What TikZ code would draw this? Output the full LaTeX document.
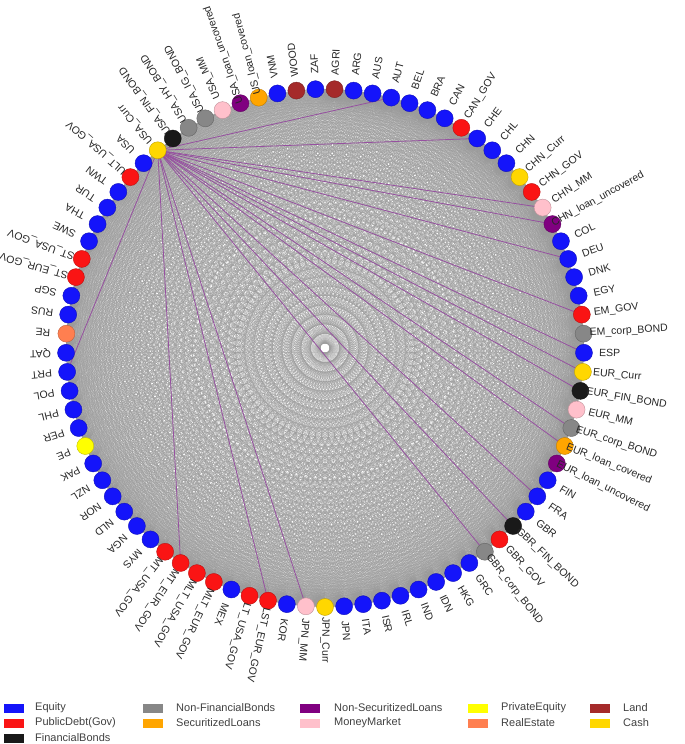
\documentclass[tikz,border=0pt]{standalone}
\usepackage{fontspec}
\setmainfont{Liberation Sans}
\usetikzlibrary{backgrounds}
\definecolor{cEq}{RGB}{20,20,250}
\definecolor{cGov}{RGB}{250,20,20}
\definecolor{cFin}{RGB}{25,25,25}
\definecolor{cNF}{RGB}{135,135,135}
\definecolor{cSec}{RGB}{255,165,0}
\definecolor{cNS}{RGB}{128,0,128}
\definecolor{cMM}{RGB}{255,192,203}
\definecolor{cPE}{RGB}{255,255,0}
\definecolor{cRE}{RGB}{255,127,80}
\definecolor{cLand}{RGB}{165,42,42}
\definecolor{cCash}{RGB}{255,215,0}
\definecolor{gedgecol}{RGB}{155,155,155}
\definecolor{pedgecol}{RGB}{150,80,160}
\newcommand\labfont{\fontsize{10.5}{12}\selectfont}
\tikzset{
 asset/.style={circle, minimum size=17pt, inner sep=0pt, fill=#1, draw=#1!75!black, line width=0.4pt},
 lab/.style={font=\labfont, text=black!85, inner sep=0pt, anchor=west},
 gedge/.style={draw=gedgecol, line width=0.1pt},
 pedge/.style={draw=pedgecol, line width=0.8pt},
 legbox/.style={minimum width=20pt, minimum height=9pt, inner sep=0pt, fill=#1, draw=none},
 legtext/.style={font=\fontsize{11}{12}\selectfont, text=black!75, anchor=west, inner sep=0pt}
}
\begin{document}
\begin{tikzpicture}[x=1pt,y=-1pt]
\useasboundingbox (0,0) rectangle (685,744);
\foreach \i/\t/\c/\n in {
0/AGRI/cLand/4, 1/ARG/cEq/3, 2/AUS/cEq/3, 3/AUT/cEq/3, 4/BEL/cEq/3, 5/BRA/cEq/3, 6/CAN/cEq/3, 7/CAN\_GOV/cGov/7,
8/CHE/cEq/3, 9/CHL/cEq/3, 10/CHN/cEq/3, 11/CHN\_Curr/cCash/8, 12/CHN\_GOV/cGov/7, 13/CHN\_MM/cMM/6,
14/CHN\_loan\_uncovered/cNS/18, 15/COL/cEq/3, 16/DEU/cEq/3, 17/DNK/cEq/3, 18/EGY/cEq/3, 19/EM\_GOV/cGov/6,
20/EM\_corp\_BOND/cNF/12, 21/ESP/cEq/3, 22/EUR\_Curr/cCash/8, 23/EUR\_FIN\_BOND/cFin/12, 24/EUR\_MM/cMM/6,
25/EUR\_corp\_BOND/cNF/13, 26/EUR\_loan\_covered/cSec/16, 27/EUR\_loan\_uncovered/cNS/18, 28/FIN/cEq/3,
29/FRA/cEq/3, 30/GBR/cEq/3, 31/GBR\_FIN\_BOND/cFin/12, 32/GBR\_GOV/cGov/7, 33/GBR\_corp\_BOND/cNF/13,
34/GRC/cEq/3, 35/HKG/cEq/3, 36/IDN/cEq/3, 37/IND/cEq/3, 38/IRL/cEq/3, 39/ISR/cEq/3, 40/ITA/cEq/3, 41/JPN/cEq/3,
42/JPN\_Curr/cCash/8, 43/JPN\_MM/cMM/6, 44/KOR/cEq/3, 45/LST\_EUR\_GOV/cGov/11, 46/LT\_USA\_GOV/cGov/10,
47/MEX/cEq/3, 48/MLT\_EUR\_GOV/cGov/11, 49/MLT\_USA\_GOV/cGov/11, 50/MT\_EUR\_GOV/cGov/10, 51/MT\_USA\_GOV/cGov/10,
52/MYS/cEq/3, 53/NGA/cEq/3, 54/NLD/cEq/3, 55/NOR/cEq/3, 56/NZL/cEq/3, 57/PAK/cEq/3, 58/PE/cPE/2, 59/PER/cEq/3,
60/PHL/cEq/3, 61/POL/cEq/3, 62/PRT/cEq/3, 63/QAT/cEq/3, 64/RE/cRE/2, 65/RUS/cEq/3, 66/SGP/cEq/3,
67/ST\_EUR\_GOV/cGov/10, 68/ST\_USA\_GOV/cGov/10, 69/SWE/cEq/3, 70/THA/cEq/3, 71/TUR/cEq/3, 72/TWN/cEq/3,
73/ULT\_USA\_GOV/cGov/11, 74/USA/cEq/3, 75/USA\_Curr/cCash/8, 76/USA\_FIN\_BOND/cFin/12, 77/USA\_HY\_BOND/cNF/11,
78/USA\_IG\_BOND/cNF/11, 79/USA\_MM/cMM/6, 80/USA\_loan\_uncovered/cNS/18, 81/US\_loan\_covered/cSec/15,
82/VNM/cEq/3, 83/WOOD/cLand/4, 84/ZAF/cEq/3} {
  \pgfmathsetmacro\a{90-(\i+0.5)*4.2352941}
  \pgfmathsetmacro\labr{277-1.0*\n}
  \node[asset=\c] (n\i) at ({325+259*cos(\a)},{348-259*sin(\a)}) {};
  \node[lab, rotate=\a] (t\i) at ({325+\labr*cos(\a)},{348-\labr*sin(\a)}) {\t};
}
\begin{pgfonlayer}{background}
\foreach \i in {0,...,83} {
  \pgfmathtruncatemacro\s{\i+1}
  \draw[gedge] foreach \j in {\s,...,84} {(n\i.center) -- (n\j.center)};
}
\foreach \j in {3,8,13,14,16,19,21,22,23,25,26,29,31,33,43,45,50,62}
  \draw[pedge] (n75.center) -- (n\j.center);
\end{pgfonlayer}
% legend
\node[legbox=cEq] (k1) at (14,708) {};   \node[legtext] (l1) at (35,708) {Equity};
\node[legbox=cGov] (k2) at (14,723) {};  \node[legtext] (l2) at (35,723) {PublicDebt(Gov)};
\node[legbox=cFin] (k3) at (14,738) {};  \node[legtext] (l3) at (35,738) {FinancialBonds};
\node[legbox=cNF] (k4) at (153,708) {};  \node[legtext] (l4) at (176,708) {Non-FinancialBonds};
\node[legbox=cSec] (k5) at (153,723) {}; \node[legtext] (l5) at (176,723) {SecuritizedLoans};
\node[legbox=cNS] (k6) at (310,708) {};  \node[legtext] (l6) at (334,708) {Non-SecuritizedLoans};
\node[legbox=cMM] (k7) at (310,723) {};  \node[legtext] (l7) at (334,723) {MoneyMarket};
\node[legbox=cPE] (k8) at (478,708) {};  \node[legtext] (l8) at (501,708) {PrivateEquity};
\node[legbox=cRE] (k9) at (478,723) {};  \node[legtext] (l9) at (501,723) {RealEstate};
\node[legbox=cLand] (k10) at (600,708) {}; \node[legtext] (l10) at (623,708) {Land};
\node[legbox=cCash] (k11) at (600,723) {}; \node[legtext] (l11) at (623,723) {Cash};
\end{tikzpicture}
\end{document}
